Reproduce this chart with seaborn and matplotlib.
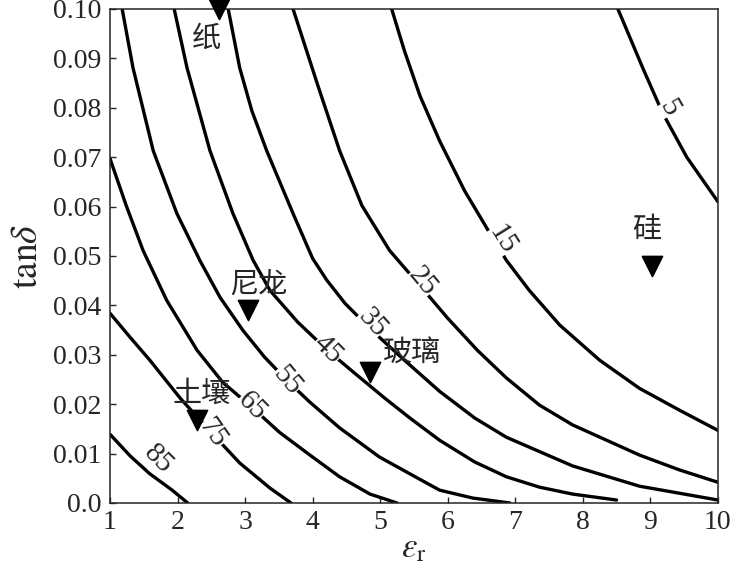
import numpy as np
import pandas as pd
import matplotlib
matplotlib.use('Agg')
import matplotlib.pyplot as plt
import seaborn as sns

# contour levels and traced lines (eps_r, tan delta)
levels = [85, 75, 65, 55, 45, 35, 25, 15, 5]

eps_85 = [1.00, 1.30, 1.59, 1.92, 2.15]
tan_85 = [0.0139, 0.0095, 0.0059, 0.0026, 0.0]

eps_75 = [1.00, 1.30, 1.59, 2.04, 2.51, 2.92, 3.37, 3.68]
tan_75 = [0.0384, 0.0335, 0.0289, 0.0212, 0.0141, 0.0081, 0.0030, 0.0]

eps_65 = [1.00, 1.24, 1.49, 1.84, 2.29, 2.67, 3.10, 3.51, 3.96, 4.40, 4.85, 5.25]
tan_65 = [0.0697, 0.0602, 0.0511, 0.0410, 0.0309, 0.0244, 0.0194, 0.0143,
          0.0097, 0.0053, 0.0018, 0.0]

eps_55 = [1.18, 1.34, 1.64, 1.99, 2.33, 2.63, 2.97, 3.29, 3.62, 3.96, 4.40,
          4.99, 5.44, 5.88, 6.37, 6.92]
tan_55 = [0.100, 0.0881, 0.0713, 0.0586, 0.0491, 0.0416, 0.0349, 0.0295,
          0.0248, 0.0204, 0.0152, 0.0093, 0.0059, 0.0026, 0.0010, 0.0]

eps_45 = [1.95, 2.14, 2.48, 2.82, 3.12, 3.37, 3.78, 4.22, 4.62, 5.07, 5.44,
          5.88, 6.40, 6.87, 7.36, 7.85, 8.50]
tan_45 = [0.100, 0.0881, 0.0713, 0.0586, 0.0491, 0.0430, 0.0366, 0.0309,
          0.0263, 0.0212, 0.0172, 0.0127, 0.0083, 0.0053, 0.0032, 0.0018, 0.0006]

eps_35 = [2.75, 2.92, 3.10, 3.32, 3.71, 4.00, 4.21, 4.48, 4.88, 5.36, 5.88,
          6.40, 6.87, 7.85, 8.84, 10.0]
tan_35 = [0.100, 0.0881, 0.0794, 0.0713, 0.0586, 0.0495, 0.0451, 0.0404,
          0.0349, 0.0289, 0.0226, 0.0172, 0.0133, 0.0075, 0.0034, 0.0006]

eps_25 = [3.71, 4.08, 4.40, 4.73, 5.14, 5.59, 6.00, 6.44, 6.87, 7.36, 7.85,
          8.84, 9.43, 10.0]
tan_25 = [0.100, 0.0844, 0.0713, 0.0602, 0.0511, 0.0440, 0.0374, 0.0309,
          0.0253, 0.0198, 0.0158, 0.0097, 0.0067, 0.0042]

eps_15 = [5.17, 5.36, 5.59, 5.88, 6.25, 6.62, 6.87, 7.21, 7.66, 8.25, 8.84,
          9.43, 10.0]
tan_15 = [0.100, 0.0915, 0.0824, 0.0733, 0.0632, 0.0547, 0.0491, 0.0430,
          0.0360, 0.0289, 0.0232, 0.0188, 0.0147]

eps_5 = [8.52, 8.89, 9.18, 9.54, 10.0]
tan_5 = [0.100, 0.088, 0.079, 0.070, 0.061]

# materials
materials = ['纸', '尼龙', '土壤', '玻璃', '硅']
mat_eps = [2.61, 3.04, 2.29, 4.85, 9.02]
mat_tan = [0.100, 0.039, 0.0168, 0.0265, 0.048]

xticks = [1, 2, 3, 4, 5, 6, 7, 8, 9, 10]
yticks = [0.0, 0.01, 0.02, 0.03, 0.04, 0.05, 0.06, 0.07, 0.08, 0.09, 0.10]
ytick_labels = ['0.0', '0.01', '0.02', '0.03', '0.04', '0.05', '0.06',
                '0.07', '0.08', '0.09', '0.10']

lines = {85: (eps_85, tan_85), 75: (eps_75, tan_75), 65: (eps_65, tan_65),
         55: (eps_55, tan_55), 45: (eps_45, tan_45), 35: (eps_35, tan_35),
         25: (eps_25, tan_25), 15: (eps_15, tan_15), 5: (eps_5, tan_5)}

rows = []
for lev in levels:
    ex, ty = lines[lev]
    for i, (a, b) in enumerate(zip(ex, ty)):
        rows.append({'level': lev, 'order': i, 'eps': a, 'tan': b})
df = pd.DataFrame(rows)

sns.set_style('ticks')
plt.rcParams['font.family'] = ['Liberation Serif', 'Noto Sans CJK SC']
plt.rcParams['mathtext.fontset'] = 'stix'

fig = plt.figure(figsize=(7.31, 5.67), dpi=100)
ax = fig.add_axes([0.1505, 0.1129, 0.8315, 0.8713])

sns.lineplot(data=df, x='eps', y='tan', units='level', estimator=None,
             sort=False, color='black', linewidth=2.4, ax=ax, legend=False)

# contour labels: (level, eps, tan, rotation)
label_pos = [(5, 9.28, 0.0800, -60), (15, 6.80, 0.0533, -58),
             (25, 5.62, 0.0448, -50), (35, 4.88, 0.0365, -48),
             (45, 4.22, 0.0310, -45), (55, 3.62, 0.0248, -50),
             (65, 3.10, 0.0196, -45), (75, 2.52, 0.0141, -55),
             (85, 1.72, 0.0089, -45)]
for lev, x, y, rot in label_pos:
    ax.text(x, y, str(lev), fontsize=21, rotation=rot, ha='center',
            va='center', rotation_mode='anchor', zorder=4,
            bbox=dict(boxstyle='square,pad=0.0', fc='white', ec='none'))

sns.scatterplot(x=mat_eps, y=mat_tan, marker='v', s=210, color='black',
                edgecolor='black', ax=ax, clip_on=False, zorder=5)

text_pos = [(2.43, 0.094), (3.20, 0.0442), (2.36, 0.0222), (5.47, 0.0303),
            (8.94, 0.0552)]
for name, (x, y) in zip(materials, text_pos):
    ax.text(x, y, name, fontsize=21, ha='center', va='center',
            family=['Noto Sans CJK SC'], zorder=6)

ax.set_xlim(1, 10)
ax.set_ylim(0, 0.10)
ax.set_xticks(xticks)
ax.set_xticklabels([str(v) for v in xticks])
ax.set_yticks(yticks)
ax.set_yticklabels(ytick_labels)
ax.tick_params(direction='in', length=4, width=1, labelsize=20, pad=6,
               top=False, right=False)
ax.tick_params(axis='x', pad=5)
for s in ax.spines.values():
    s.set_visible(True)
    s.set_linewidth(1.1)
ax.set_xlabel(r'$\varepsilon_{\mathrm{r}}$', fontsize=25, labelpad=-2)
ax.set_ylabel(r'$\mathrm{tan}\delta$', fontsize=27, labelpad=6)

fig.savefig('out.png', dpi=100)
